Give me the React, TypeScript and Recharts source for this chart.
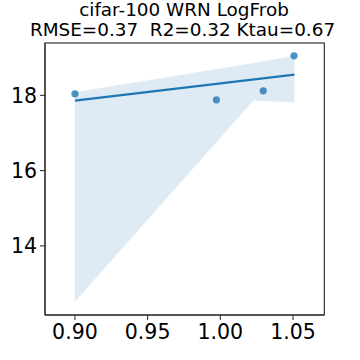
import * as React from 'react';
import {
	ComposedChart,
	Area,
	Line,
	Scatter,
	XAxis,
	YAxis
} from 'recharts';

// observed points
const pointX = [0.9, 0.9973, 1.0295, 1.0507];
const pointY = [18.04, 17.88, 18.12, 19.05];

// regression line ends
const fitX = [0.9, 1.051];
const fitY = [17.86, 18.55];

// confidence band outline
const bandX = [0.9, 1.0227, 1.051];
const bandLow = [12.52, 17.86, 17.81];
const bandHigh = [18.08, 18.86, 19.05];

const xTicks = [0.9, 0.95, 1.0, 1.05];
const yTicks = [14, 16, 18];

const titleLines = ['cifar-100 WRN LogFrob', 'RMSE=0.37  R2=0.32 Ktau=0.67'];

const BLUE = '#1f77b4';
const FONT = '"DejaVu Sans", sans-serif';
const TICK_FS = 20.5;
const TITLE_FS = 18.4;

const table = bandX.map((x, i) => {
	const j = fitX.indexOf(x);
	return {
		x,
		band: [bandLow[i], bandHigh[i]],
		fit: j >= 0 ? fitY[j] : null
	};
});

const points = pointX.map((x, i) => ({ x, y: pointY[i] }));

const XTick = (p: any) => (
	<text
		x={p.x}
		y={p.y + 15}
		textAnchor="middle"
		fontSize={TICK_FS}
		fontFamily={FONT}
		fill="#000"
	>
		{p.payload.value.toFixed(2)}
	</text>
);

const YTick = (p: any) => (
	<text
		x={p.x + 1}
		y={p.y + 7.5}
		textAnchor="end"
		fontSize={TICK_FS}
		fontFamily={FONT}
		fill="#000"
	>
		{p.payload.value}
	</text>
);

export default function App() {
	return (
		<div style={{ position: 'absolute', left: 0, top: 0, background: '#fff' }}>
			<ComposedChart
				width={360}
				height={360}
				data={table}
				margin={{ top: 43, right: 36, left: 0, bottom: 0 }}
			>
				<XAxis
					dataKey="x"
					type="number"
					domain={[0.8794, 1.0713]}
					allowDataOverflow
					ticks={xTicks}
					tick={<XTick />}
					tickSize={5}
					tickMargin={4}
					height={45}
					stroke="#222"
					interval={0}
				/>
				<YAxis
					type="number"
					domain={[12.165, 19.39]}
					allowDataOverflow
					ticks={yTicks}
					tick={<YTick />}
					tickSize={5}
					tickMargin={4}
					width={45}
					stroke="#222"
					interval={0}
				/>
				<Area
					dataKey="band"
					type="linear"
					stroke="none"
					fill={BLUE}
					fillOpacity={0.15}
					isAnimationActive={false}
					activeDot={false}
				/>
				<Line
					dataKey="fit"
					type="linear"
					stroke={BLUE}
					strokeWidth={2.4}
					dot={false}
					connectNulls
					isAnimationActive={false}
				/>
				<Scatter
					data={points}
					dataKey="y"
					fill={BLUE}
					isAnimationActive={false}
					shape={(p: any) => (
						<circle cx={p.cx} cy={p.cy} r={3.6} fill={BLUE} fillOpacity={0.8} />
					)}
				/>
				<rect x={45} y={43} width={279.3} height={272} fill="none" stroke="#222" strokeWidth={1.1} />
				<text x={184} y={16} textAnchor="middle" fontSize={TITLE_FS} fontFamily={FONT} fill="#000">
					{titleLines[0]}
				</text>
				<text
					x={182.5}
					y={36}
					textAnchor="middle"
					fontSize={TITLE_FS}
					fontFamily={FONT}
					fill="#000"
					xmlSpace="preserve"
					style={{ whiteSpace: 'pre' }}
				>
					{titleLines[1]}
				</text>
			</ComposedChart>
		</div>
	);
}
